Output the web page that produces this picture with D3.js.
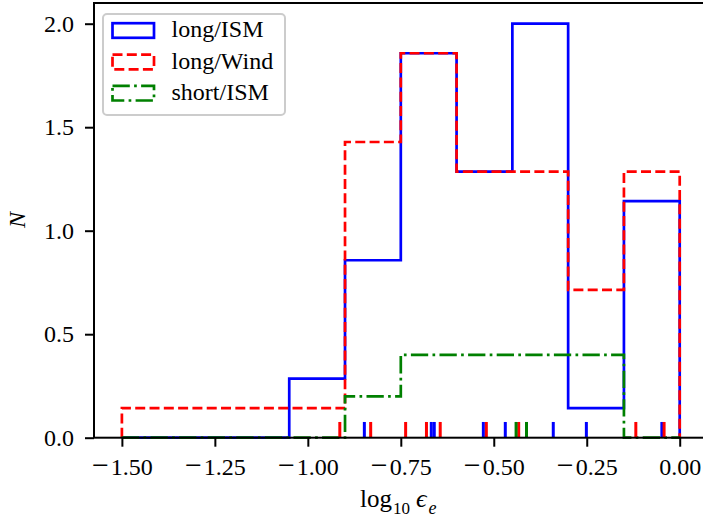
<!DOCTYPE html>
<html>
<head>
<meta charset="utf-8">
<script src="https://cdn.jsdelivr.net/npm/d3@7"></script>
<style>
  body { margin: 0; background: #fff; }
  svg { display: block; }
  svg text { font-family: "Liberation Serif", "DejaVu Serif", "Noto Serif", serif; fill: #000; }
</style>
</head>
<body>
<svg id="chart" width="703" height="519"></svg>
<script>
// Histogram bin edges (log10 epsilon_e) and step heights per sample
const binEdges = [-1.5, -1.35, -1.2, -1.05, -0.9, -0.75, -0.6, -0.45, -0.3, -0.15, 0];
const longIsmHeights  = [0, 0, 0, 2/7, 6/7, 13/7, 9/7, 14/7, 1/7, 8/7];
const longWindHeights = [1/7, 1/7, 1/7, 1/7, 10/7, 13/7, 9/7, 9/7, 5/7, 9/7];
const shortIsmHeights = [0, 0, 0, 0, 0.2, 0.4, 0.4, 0.4, 0.4, 0];

// Individual measurements shown as a rug along the bottom
const longIsmRug  = [-0.848, -0.668, -0.660, -0.528, -0.469, -0.340, -0.251, -0.048];
const longWindRug = [-0.914, -0.831, -0.737, -0.681, -0.644, -0.520, -0.433, -0.118, -0.042];
const shortIsmRug = [-0.440, -0.412];

const seriesNames = ["long/ISM", "long/Wind", "short/ISM"];
const xTicks = [-1.5, -1.25, -1.0, -0.75, -0.5, -0.25, 0.0];
const yTicks = [0, 0.5, 1.0, 1.5, 2.0];

const series = [
  { name: seriesNames[0], heights: longIsmHeights,  rug: longIsmRug,  color: "#0000ff", dash: null },
  { name: seriesNames[1], heights: longWindHeights, rug: longWindRug, color: "#ff0000", dash: "10,4.3" },
  { name: seriesNames[2], heights: shortIsmHeights, rug: shortIsmRug, color: "#008000", dash: "17.3,4.3,2.7,4.3" }
];

const serif = "'Liberation Serif', 'DejaVu Serif', 'Noto Serif', serif";
const svg = d3.select("#chart");
const plotLeft = 94, plotTop = 3, plotRight = 707.6, plotBottom = 437.7;
const lw = 2.7;

const x = d3.scaleLinear().domain([-1.575, 0.075]).range([plotLeft, plotRight]);
const y = d3.scaleLinear().domain([0, 2.1]).range([plotBottom, plotTop]);

// Step outline for a histogram
function stepPoints(heights) {
  const pts = [[binEdges[0], 0]];
  heights.forEach((h, i) => {
    pts.push([binEdges[i], h]);
    pts.push([binEdges[i + 1], h]);
  });
  pts.push([binEdges[binEdges.length - 1], 0]);
  return pts;
}
const line = d3.line().x(d => x(d[0])).y(d => y(d[1]));

const plot = svg.append("g");
series.forEach(s => {
  plot.append("path")
    .attr("d", line(stepPoints(s.heights)))
    .attr("fill", "none")
    .attr("stroke", s.color)
    .attr("stroke-width", lw)
    .attr("stroke-linejoin", "miter")
    .attr("stroke-dasharray", s.dash);
});

// Rug ticks
const rugHeight = 0.076;
series.forEach(s => {
  plot.selectAll(null)
    .data(s.rug)
    .join("line")
    .attr("x1", d => x(d)).attr("x2", d => x(d))
    .attr("y1", y(0)).attr("y2", y(rugHeight))
    .attr("stroke", s.color)
    .attr("stroke-width", 3);
});

// Axes
const fmtX = d => (d < 0 ? "\u2212" : "") + Math.abs(d).toFixed(2);
const fmtY = d => d.toFixed(1);

const xAxis = svg.append("g")
  .attr("transform", `translate(0,${plotBottom})`)
  .call(d3.axisBottom(x).tickValues(xTicks).tickFormat(fmtX).tickSize(9).tickPadding(11.6).tickSizeOuter(0));
const yAxis = svg.append("g")
  .attr("transform", `translate(${plotLeft},0)`)
  .call(d3.axisLeft(y).tickValues(yTicks).tickFormat(fmtY).tickSize(9).tickPadding(11).tickSizeOuter(0));

[xAxis, yAxis].forEach(g => {
  g.attr("font-family", serif);
  g.select(".domain").remove();
  g.selectAll(".tick line").attr("stroke", "#000").attr("stroke-width", 2);
  g.selectAll(".tick text")
    .attr("fill", "#000")
    .style("font-family", serif)
    .style("font-size", "24px");
});

// Wider math-style minus sign on negative tick labels
xAxis.selectAll(".tick text").each(function (d) {
  if (d >= 0) return;
  const t = d3.select(this).text(null);
  t.append("tspan").style("font-size", "30px").text("\u2212");
  t.append("tspan").attr("dx", 2).text(Math.abs(d).toFixed(2));
});

// Frame
svg.append("rect")
  .attr("x", plotLeft).attr("y", plotTop)
  .attr("width", plotRight - plotLeft).attr("height", plotBottom - plotTop)
  .attr("fill", "none").attr("stroke", "#000").attr("stroke-width", 2);

// Axis labels
svg.append("text")
  .attr("transform", "translate(25,220) rotate(-90)")
  .attr("text-anchor", "middle")
  .style("font-family", serif)
  .style("font-size", "24px")
  .style("font-style", "italic")
  .text("N");

const xl = svg.append("text")
  .attr("x", 360).attr("y", 507)
  .style("font-family", serif)
  .style("font-size", "25px");
xl.append("tspan").text("log");
xl.append("tspan").attr("dy", 7).attr("dx", 1).style("font-size", "17px").text("10");
xl.append("tspan").attr("dy", -7).attr("dx", 6).style("font-style", "italic").style("font-size", "26px").text("\u03F5");
xl.append("tspan").attr("dy", 7).attr("dx", 2).style("font-size", "18px").style("font-style", "italic").text("e");

// Legend
const legend = svg.append("g");
legend.append("rect")
  .attr("x", 103).attr("y", 14).attr("width", 182).attr("height", 101)
  .attr("rx", 4)
  .attr("fill", "#fff").attr("fill-opacity", 0.8)
  .attr("stroke", "#cccccc").attr("stroke-width", 2);

const rowY = [30.5, 62, 93.2];
series.forEach((s, i) => {
  legend.append("rect")
    .attr("x", 112.5).attr("y", rowY[i] - 7.3)
    .attr("width", 41.5).attr("height", 14.6)
    .attr("fill", "none")
    .attr("stroke", s.color)
    .attr("stroke-width", lw)
    .attr("stroke-dasharray", s.dash);
  legend.append("text")
    .attr("x", 171.5).attr("y", rowY[i] + 6.5)
    .style("font-family", serif)
    .style("font-size", "24px")
    .text(s.name);
});
</script>
</body>
</html>
